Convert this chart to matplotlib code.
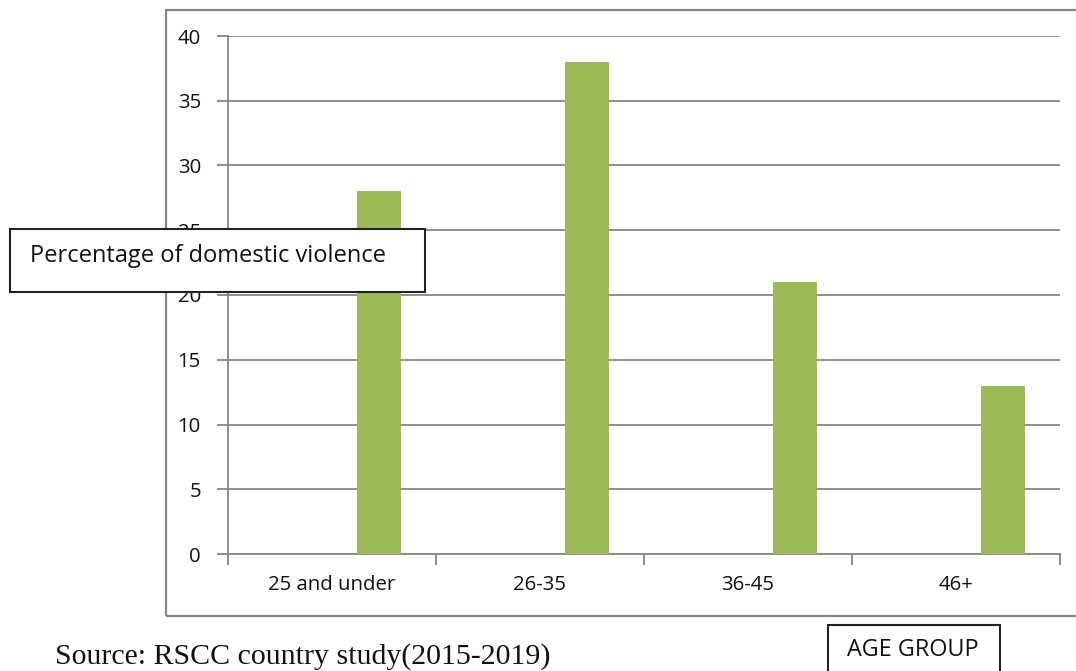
import matplotlib
matplotlib.use("Agg")
import matplotlib.pyplot as plt
from matplotlib.patches import Rectangle

# Data
age_groups = ["25 and under", "26-35", "36-45", "46+"]
percentages = [28, 38, 21, 13]
y_ticks = [0, 5, 10, 15, 20, 25, 30, 35, 40]

W, H = 1076, 671
fig = plt.figure(figsize=(W / 100, H / 100), dpi=100)
fig.patch.set_facecolor("white")

def px(x0, y0, x1, y1):
    """Figure-fraction rect from pixel box (top-left origin)."""
    return [x0 / W, 1 - y1 / H, (x1 - x0) / W, (y1 - y0) / H]

grid_col = "#868686"
bar_col = "#9BBB59"
font = "Open Sans"

# Outer chart frame
fig.patches.append(Rectangle((166 / W, 1 - 616 / H), (1090 - 166) / W, (616 - 10) / H,
                             transform=fig.transFigure, fill=False,
                             edgecolor=grid_col, linewidth=1.6, zorder=0))

ax = fig.add_axes(px(228, 36, 1060, 554))
ax.set_xlim(0, len(age_groups))
ax.set_ylim(0, 40)

# Bars sit to the right of each category slot
bar_w = 44 / 208
offset = 151 / 208
xs = [i + offset for i in range(len(age_groups))]
ax.bar(xs, percentages, width=bar_w, color=bar_col, zorder=3)

ax.set_yticks(y_ticks)
ax.set_yticklabels([str(v) for v in y_ticks], fontsize=14.7, family=font, color="#111111")
ax.yaxis.grid(True, color=grid_col, linewidth=1.3, zorder=0)
ax.tick_params(axis="y", direction="out", length=8, width=1.3, color=grid_col, pad=11.5)

# Category boundary ticks, labels centred in each slot
ax.set_xticks(range(len(age_groups) + 1))
ax.set_xticklabels([""] * (len(age_groups) + 1))
ax.set_xticks([i + 0.5 for i in range(len(age_groups))], minor=True)
ax.set_xticklabels(age_groups, minor=True, fontsize=14.7, family=font, color="#111111")
ax.tick_params(axis="x", which="major", direction="out", length=8, width=1.3, color=grid_col)
ax.tick_params(axis="x", which="minor", length=0, pad=15)

for s in ["top", "right"]:
    ax.spines[s].set_visible(False)
for s in ["left", "bottom"]:
    ax.spines[s].set_color(grid_col)
    ax.spines[s].set_linewidth(1.3)

# Axis caption boxes
fig.patches.append(Rectangle((10 / W, 1 - 292 / H), (425 - 10) / W, (292 - 229) / H,
                             transform=fig.transFigure, facecolor="white",
                             edgecolor="#222222", linewidth=1.5, zorder=5))
fig.text(30 / W, 1 - 256 / H, "Percentage of domestic violence", fontsize=17,
         family=font, color="#111111", va="center", ha="left", zorder=6)

fig.patches.append(Rectangle((828 / W, 1 - 690 / H), (1000 - 828) / W, (690 - 625) / H,
                             transform=fig.transFigure, facecolor="white",
                             edgecolor="#222222", linewidth=1.5, zorder=5))
fig.text(847 / W, 1 - 650 / H, "AGE GROUP", fontsize=16.8,
         family=font, color="#111111", va="center", ha="left", zorder=6)

fig.text(55 / W, 1 - 664 / H, "Source: RSCC country study(2015-2019)", fontsize=21.5,
         family="Liberation Serif", color="#111111", va="baseline", ha="left")

fig.savefig("out.png", dpi=100)
